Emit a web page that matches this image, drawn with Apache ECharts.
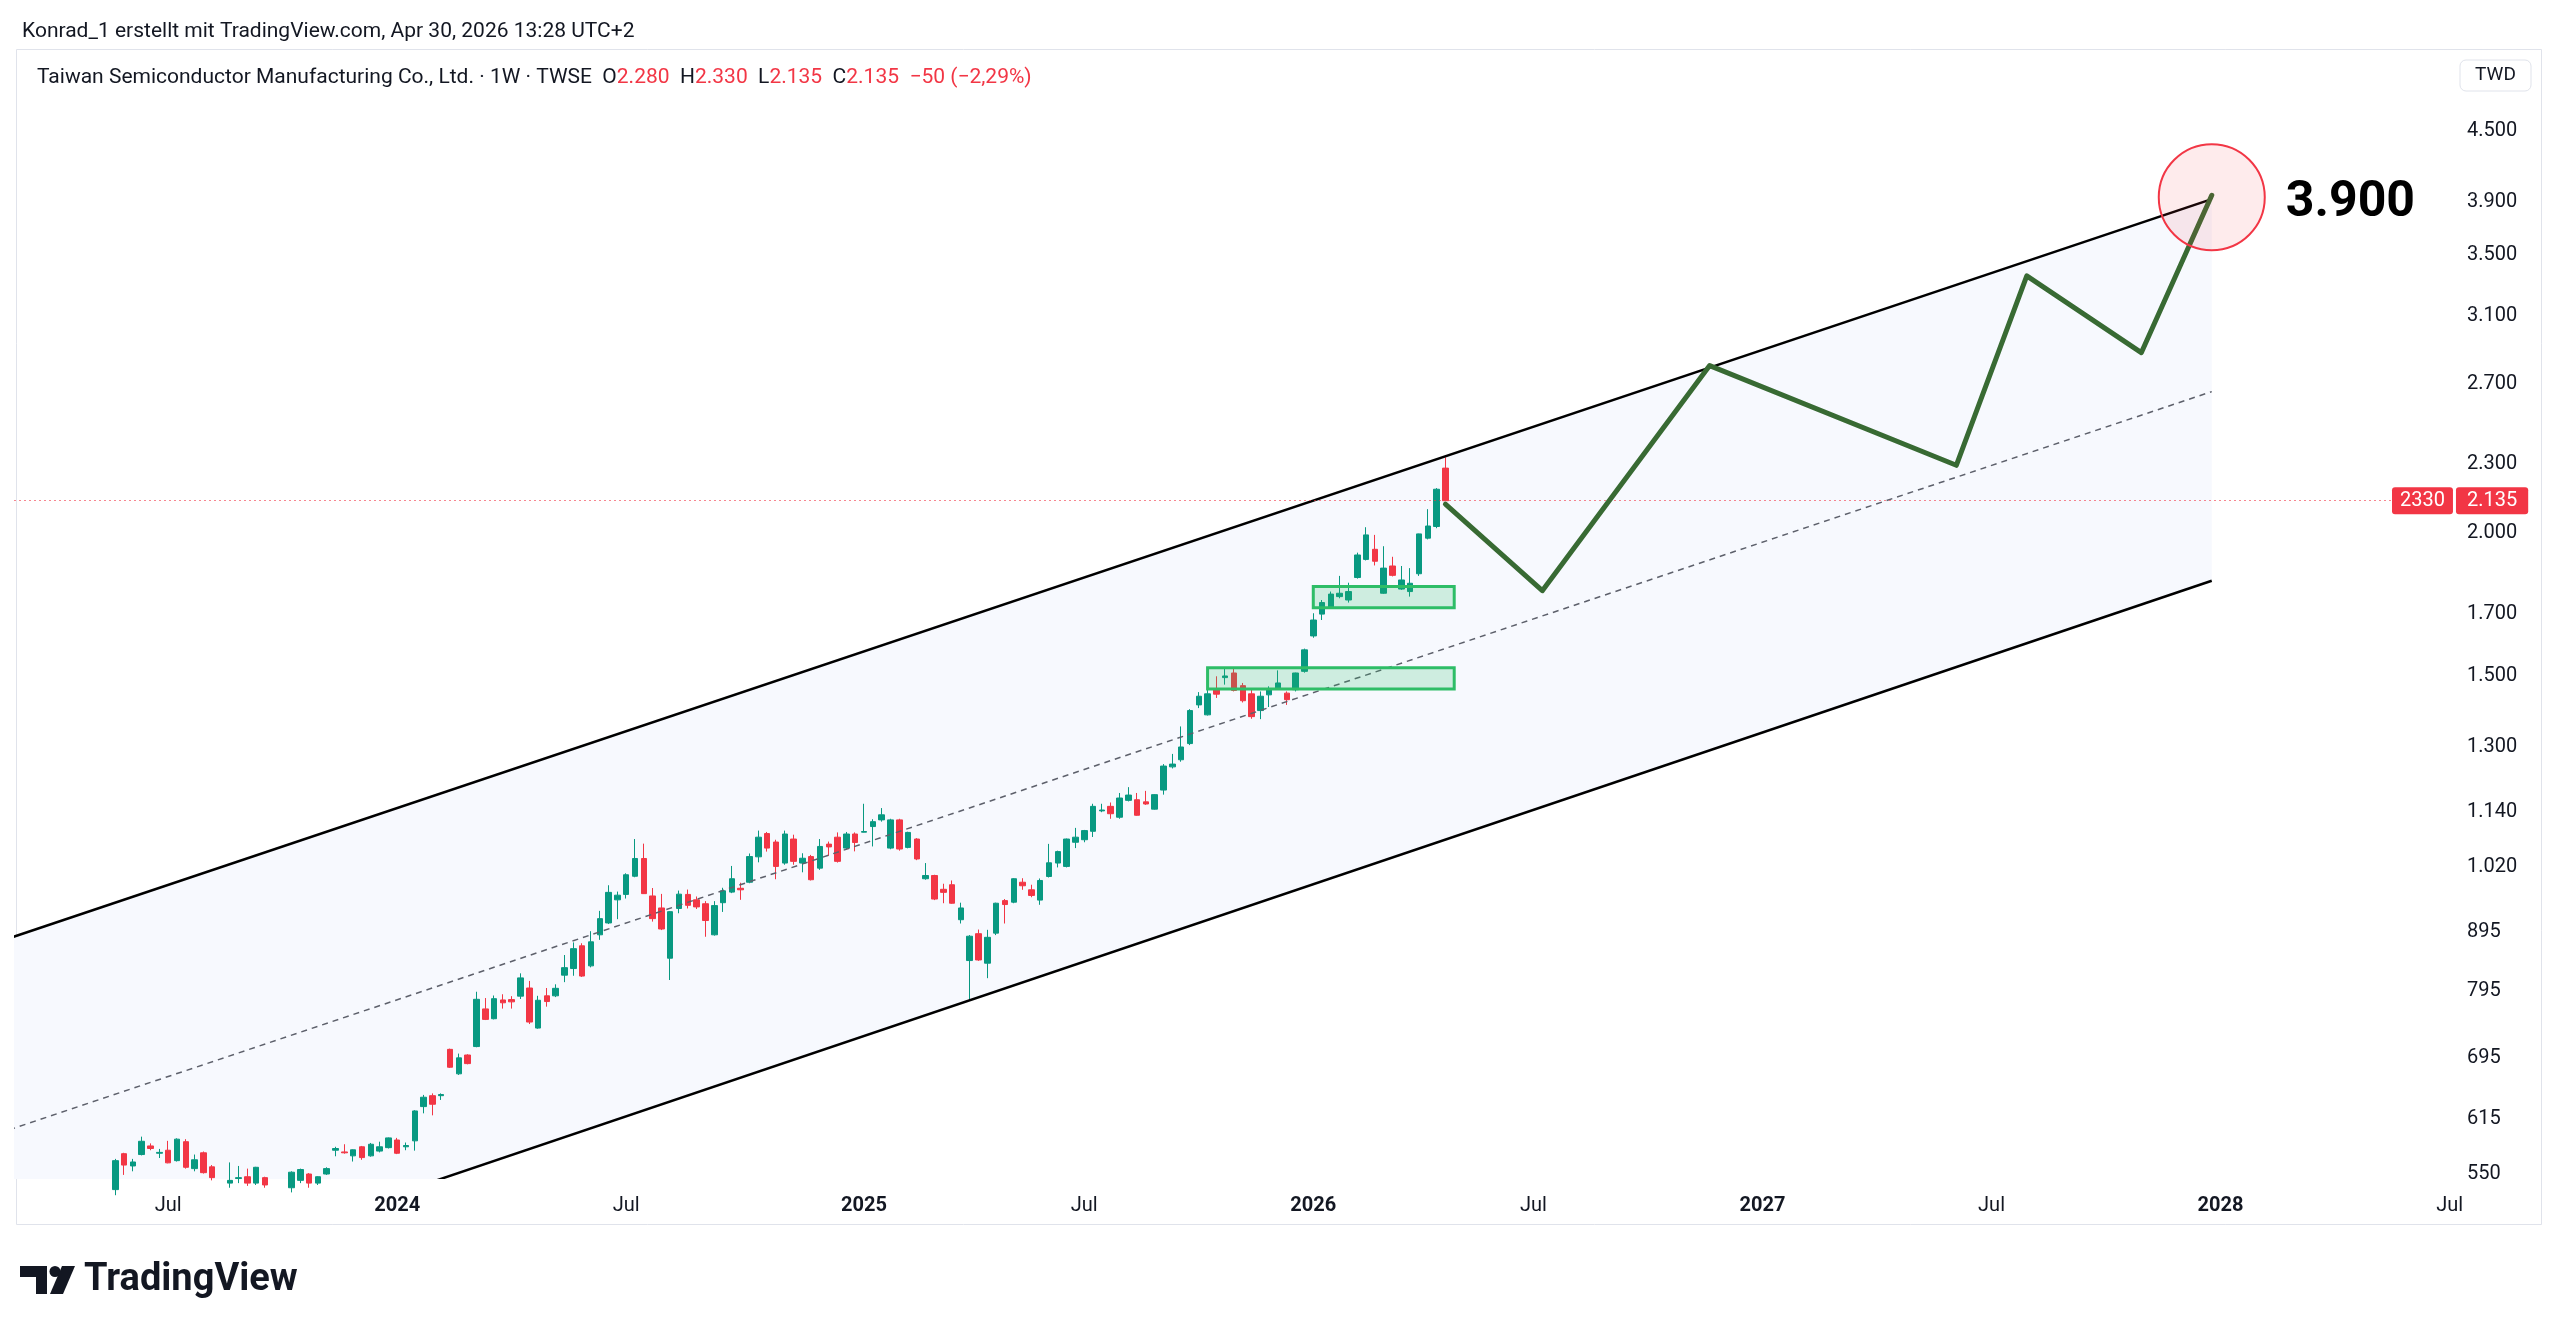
<!DOCTYPE html>
<html>
<head>
<meta charset="utf-8">
<script src="https://cdn.jsdelivr.net/npm/echarts@6/dist/echarts.min.js"></script>
<style>
html,body{margin:0;padding:0;background:#ffffff;}
#chart{width:2560px;height:1334px;}
</style>
</head>
<body>
<div id="chart"></div>
<script>
// ---------- time grid (weekly bars, TWSE closed weeks skipped) ----------
const weekStart = '2023-03-06';
const weekEnd = '2028-07-03';
const closedWeeks = ['2025-01-27', '2026-02-16'];

// ---------- weekly candles: [open, high, low, close], first bar = firstBar ----------
const firstBar = '2023-05-22';
const ohlc = [
  [533,567,527,565],[573,574,549,560],[559,567,553,563.5],[572,593,571,587.5],[582,585,577,579],
  [573.5,578.5,568,574.5],[577,588,562,562.5],[565,591,564,590],[587,590,556,557.5],[556,572,553,566],
  [574,575.5,550.5,551.5],[558,560,543,546],null,[540,563,535,543],[545,559,540,546],
  [547,556,537,540],[540,558,538,557.5],[546,547,535,538],null,null,
  [535,553,530,552],[543,556,540,555],[550,551,535,540],[540,547.5,538,547],[550,557.5,549,556],
  [577,581,570,579],[575,584,573,574],[570.5,578,564,577.5],[581,582,566,568.5],[570.5,585.5,569.5,584],
  [576,587,574.5,581],[580,592,579,591.5],[589,591.5,572.5,573.5],[581,586,577,582.5],[588,625.5,576.5,624.5],
  [630,645,621.5,642],[644,647,619,633],[644,647,638.5,645.5],[707,708,681,682],[673,701,671.5,695],
  [699,700,686,687],[711,794,710,782],[767,784,750,751],[752,788,751,783],[781,790,767.5,776.5],
  [781.5,787,767.5,778],[787,824,782.5,816.5],[800,811.5,744,747],[738,787.5,737,780.5],[787.5,800,770.5,778.5],
  [787.5,806,785.5,799.5],[821,855,809.5,833.5],[832,877,820,866],[871,875.5,818,819.5],[836.5,897,834,878],
  [890.5,934.5,881.5,920],[912,984,910,970],[955.5,971.5,919,964.5],[966,1008,958,1005],[1002,1080,1000,1038.5],
  [1038.5,1070,967,967.5],[963,978.5,914.5,920],[940,967,899,901],[849.5,934,813,933],[939,973.5,930,966.5],
  [966,975.5,939,945],[955.5,962,938,942],[948,953,887,916.5],[890.5,953,889,944.5],[950,979,932.5,973],
  [970.5,1023,968.5,997],[978,989,955.5,975],[990,1049,988,1042.5],[1042,1098.5,1030.5,1084],[1092,1095.5,1053,1060.5],
  [1073.5,1078.5,996,1022],[1029,1098.5,1025.5,1091],[1080,1089.5,1025.5,1032.5],[1029,1049.5,1010,1039],[1042.5,1046,993.5,995],
  [1018.5,1080,1015,1064],[1069,1074.5,1044,1063],[1084,1094.5,1030,1032.5],[1060.5,1095.5,1058.5,1091],[1091,1094.5,1053.5,1072.5],
  [1095,1159.5,1094.5,1096.5],[1107.5,1124,1064,1118.5],[1122.5,1149.5,1118.5,1134],[1060.5,1125,1058,1122.5],[1122.5,1125,1055,1058.5],
  [1062,1096,1060,1094.5],[1080,1082,1035,1037.5],[997,1029,995,1003.5],[1003.5,1005,955,957],[976,987,949,970],
  [985,993.5,948,949],[918,950,911,940],[845.5,890,781,888],[892.5,900,845,846.5],[841,899.5,816,886],
  [893.5,950,890,949],[954,957,911,946.5],[951,998,949,997],[990,998,975,983],[975,985,960.5,964],
  [955,997.5,946,993.5],[1001.5,1069.5,999.5,1029.5],[1029,1055,1020,1053],[1022,1081,1020,1080],[1073,1104.5,1060.5,1084],
  [1078.5,1100,1073,1098.5],[1097,1159.5,1084.5,1153.5],[1143,1159.5,1140,1145],[1153.5,1162.5,1125,1136.5],[1128.5,1185,1125,1173],
  [1167.5,1199,1165,1180],[1169,1185,1132,1133],[1164,1190,1157,1159],[1147,1182,1146,1181],[1192,1256,1181,1251],
  [1249,1282,1245,1256],[1267,1355,1262,1300],[1309,1403,1305,1399],[1415,1452,1406,1440],[1387,1461,1385,1447],
  [1459,1499,1435,1446],[1495,1522,1474,1500],[1509,1524,1454,1457],[1471,1479,1422,1427],[1447,1459,1376,1382],
  [1399,1454,1375,1440],[1444,1469,1409,1461],[1464,1517,1461,1479],[1449,1454,1415,1430],[1459,1510,1454,1509],
  [1514,1585,1510,1581],[1626,1702,1620,1679],[1699,1748,1679,1739],[1721,1778,1718,1769],[1760,1835,1754,1772],
  [1748,1810,1739,1778],[1829,1923,1825,1914],[1897,2024,1893,1993],[1936,1993,1874,1890],[1772,1948,1770,1864],
  [1872,1907,1833,1837],[1787,1872,1784,1820],[1778,1864,1760,1808],[1843,1998,1835,1997],[1980,2099,1975,2029],
  [2027,2190,2020,2185],[2280,2330,2135,2135]
];

// ---------- price scale ticks ----------
const priceTicks = [550,615,695,795,895,1020,1140,1300,1500,1700,2000,2300,2700,3100,3500,3900,4500];
const priceMin = 544.5, priceMax = 5304;

// ---------- time axis labels ----------
const timeLabels = {
  '2023-07-03':'Jul','2024-01-01':'2024','2024-07-01':'Jul','2025-01-06':'2025','2025-07-07':'Jul',
  '2026-01-05':'2026','2026-07-06':'Jul','2027-01-04':'2027','2027-07-05':'Jul','2028-01-03':'2028','2028-07-03':'Jul'
};

// ---------- drawings ----------
const upperLine = [['2023-03-06', 890], ['2027-12-27', 3920]];
const midLine   = [['2023-03-06', 605], ['2027-12-27', 2660]];
const lowerLine = [['2024-02-12', 548], ['2027-12-27', 1817]];
const forecastPath = [
  ['2026-04-27', 2120], ['2026-07-13', 1781], ['2026-11-23', 2803], ['2027-06-07', 2293],
  ['2027-08-02', 3358], ['2027-11-01', 2877], ['2027-12-27', 3950]
];
const zones = [
  { from: '2025-10-13', to: '2026-05-04', low: 1461, high: 1525 },
  { from: '2026-01-05', to: '2026-05-04', low: 1721, high: 1796 }
];
const targetPoint = ['2027-12-27', 3935];
const targetText = '3.900';
const lastClose = 2135;
const symbolCode = '2330';

// ---------- header texts ----------
const creditText = 'Konrad_1 erstellt mit TradingView.com, Apr 30, 2026 13:28 UTC+2';
const instrumentText = 'Taiwan Semiconductor Manufacturing Co., Ltd. · 1W · TWSE';
const quoteFields = [['O','2.280'],['H','2.330'],['L','2.135'],['C','2.135']];
const changeText = '−50 (−2,29%)';
const currencyText = 'TWD';

// ---------- build categories ----------
function buildWeeks() {
  const out = [];
  const p = s => { const [y,m,d] = s.split('-').map(Number); return Date.UTC(y, m-1, d); };
  for (let t = p(weekStart); t <= p(weekEnd); t += 7*86400000) {
    const s = new Date(t).toISOString().slice(0,10);
    if (!closedWeeks.includes(s)) out.push(s);
  }
  return out;
}
const cats = buildWeeks();
const firstIdx = cats.indexOf(firstBar);
const candleData = cats.map((d, k) => {
  const r = ohlc[k - firstIdx];
  if (!r) return '-';
  return [r[0], r[3], r[2], r[1]];
});
const idx = d => cats.indexOf(d);

const UP = '#089981', DOWN = '#f23645', TXT = '#131722';
const FONT = 'Roboto, "Noto Sans", sans-serif';

const fmtPrice = v => v >= 1000 ? Math.floor(v/1000) + '.' + String(Math.round(v % 1000)).padStart(3,'0') : String(v);

const chart = echarts.init(document.getElementById('chart'), null, { renderer: 'canvas' });

function ext(a, b, x) { return [x, a[1] + (b[1]-a[1]) * (x - a[0]) / (b[0] - a[0])]; }

const headerRich = {
  n: { color: TXT, fontSize: 21, fontWeight: 'normal', fontFamily: FONT },
  r: { color: '#f23645', fontSize: 21, fontWeight: 'normal', fontFamily: FONT }
};
let headerStr = '{n|' + instrumentText + '  }';
quoteFields.forEach(([k, v]) => { headerStr += '{n|' + k + '}{r|' + v + '}{n|  }'; });
headerStr += '{r|' + changeText + '}';

const option = {
  animation: false,
  backgroundColor: '#ffffff',
  textStyle: { fontFamily: FONT },
  title: [
    { text: creditText, left: 17, top: 16, textStyle: { fontSize: 21, fontWeight: 'normal', color: TXT, fontFamily: FONT } },
    { text: headerStr, left: 32, top: 62, textStyle: { fontWeight: 'normal', rich: headerRich } }
  ],
  grid: { left: 14, right: 106, top: 49, bottom: 155, outerBoundsMode: 'none', containLabel: false },
  xAxis: {
    type: 'category', data: cats, boundaryGap: true,
    axisLine: { show: false }, axisTick: { show: false }, splitLine: { show: false },
    axisLabel: {
      margin: 17,
      interval: (i, v) => timeLabels[v] !== undefined,
      formatter: v => { const t = timeLabels[v] || ''; return /^\d{4}$/.test(t) ? '{y|' + t + '}' : '{m|' + t + '}'; },
      rich: {
        y: { fontSize: 20, fontWeight: 'bold', color: TXT, fontFamily: FONT },
        m: { fontSize: 20, color: TXT, fontFamily: FONT }
      }
    }
  },
  yAxis: {
    type: 'log', position: 'right', min: priceMin, max: priceMax, logBase: 10,
    axisLine: { show: false }, axisTick: { show: false }, splitLine: { show: false },
    axisLabel: { customValues: priceTicks, margin: 13, padding: [6, 0, 0, 0], fontSize: 20, color: TXT, fontFamily: FONT, formatter: v => fmtPrice(v) }
  },
  graphic: [
    { type: 'rect', silent: true, z: -10, shape: { x: 16.5, y: 49.5, width: 2525, height: 1175 }, style: { fill: null, stroke: '#e0e3eb', lineWidth: 1 } },
    { type: 'rect', silent: true, shape: { x: 2460, y: 60, width: 71, height: 31, r: 6 }, style: { fill: '#ffffff', stroke: '#e0e3eb', lineWidth: 1 } },
    { type: 'text', silent: true, x: 2495.5, y: 75.5, style: { text: currencyText, fill: TXT, font: '19px ' + FONT, align: 'center', verticalAlign: 'middle' } },
    { type: 'polygon', silent: true, shape: { points: [[20,1266],[47,1266],[47,1294],[36,1294],[36,1277],[20,1277]] }, style: { fill: TXT } },
    { type: 'circle', silent: true, shape: { cx: 55, cy: 1271.5, r: 5.5 }, style: { fill: TXT } },
    { type: 'polygon', silent: true, shape: { points: [[62,1266],[75,1266],[63,1294],[50,1294]] }, style: { fill: TXT } },
    { type: 'text', silent: true, x: 84, y: 1280, style: { text: 'TradingView', fill: TXT, font: 'bold 38px ' + FONT, verticalAlign: 'middle' } }
  ],
  series: [
    {
      type: 'custom', name: 'channelFill', coordinateSystem: 'cartesian2d', clip: true, silent: true, z: 1,
      data: [0],
      renderItem: (params, api) => {
        const P = ([d, v]) => api.coord([idx(d), v]);
        const u0 = P(upperLine[0]), u1 = P(upperLine[1]);
        const l0 = P(lowerLine[0]), l1 = P(lowerLine[1]);
        const xl = u0[0] - 30;
        const uL = ext(u0, u1, xl), lL = ext(l0, l1, xl), lR = ext(l0, l1, u1[0]);
        return { type: 'polygon', shape: { points: [uL, u1, lR, lL] }, style: { fill: '#f7f9fe' } };
      }
    },
    {
      type: 'candlestick', name: 'TSMC', data: candleData, barWidth: 6, z: 2,
      itemStyle: { color: UP, color0: DOWN, borderColor: UP, borderColor0: DOWN, borderWidth: 1 },
      markLine: {
        silent: true, symbol: ['none', 'none'], precision: 0,
        data: [{ yAxis: lastClose }],
        lineStyle: { color: 'rgba(242, 54, 69, 0.6)', type: [2, 3], width: 1 },
        label: {
          show: true, position: 'end', distance: -62,
          formatter: () => '{a|' + symbolCode + '}{s|}{b|' + fmtPrice(lastClose) + '}',
          rich: {
            a: { backgroundColor: '#f23645', color: '#ffffff', fontSize: 20, fontFamily: FONT, padding: [4, 8, 3, 8], borderRadius: 3 },
            s: { width: 3 },
            b: { backgroundColor: '#f23645', color: '#ffffff', fontSize: 20, fontFamily: FONT, padding: [4, 11, 3, 11], borderRadius: 3 }
          }
        }
      }
    },
    {
      type: 'custom', name: 'channelLines', coordinateSystem: 'cartesian2d', clip: true, silent: true, z: 3,
      data: [0],
      renderItem: (params, api) => {
        const P = ([d, v]) => api.coord([idx(d), v]);
        const u0 = P(upperLine[0]), u1 = P(upperLine[1]);
        const m0 = P(midLine[0]), m1 = P(midLine[1]);
        const l0 = P(lowerLine[0]), l1 = P(lowerLine[1]);
        const xl = u0[0] - 30;
        const uL = ext(u0, u1, xl), mL = ext(m0, m1, xl), lL = ext(l0, l1, xl), lR = ext(l0, l1, u1[0]), mR = ext(m0, m1, u1[0]);
        return { type: 'group', children: [
          { type: 'line', shape: { x1: mL[0], y1: mL[1], x2: mR[0], y2: mR[1] }, style: { stroke: '#5d606b', lineWidth: 1.5, lineDash: [6, 5] } },
          { type: 'line', shape: { x1: uL[0], y1: uL[1], x2: u1[0], y2: u1[1] }, style: { stroke: '#000000', lineWidth: 2.5 } },
          { type: 'line', shape: { x1: lL[0], y1: lL[1], x2: lR[0], y2: lR[1] }, style: { stroke: '#000000', lineWidth: 2.5 } }
        ]};
      }
    },
    {
      type: 'custom', name: 'zones', coordinateSystem: 'cartesian2d', clip: true, silent: true, z: 4,
      data: zones.map((z, k) => k),
      renderItem: (params, api) => {
        const z = zones[params.dataIndex];
        const a = api.coord([idx(z.from), z.high]), b = api.coord([idx(z.to), z.low]);
        return { type: 'rect', shape: { x: a[0], y: a[1], width: b[0] - a[0], height: b[1] - a[1] },
          style: { fill: 'rgba(46, 189, 103, 0.2)', stroke: '#2ebd67', lineWidth: 3 } };
      }
    },
    {
      type: 'line', name: 'forecast', z: 5, silent: true, symbol: 'none',
      data: forecastPath.map(([d, v]) => [idx(d), v]),
      lineStyle: { color: '#386a33', width: 5, join: 'round', cap: 'round' }
    },
    {
      type: 'scatter', name: 'target', z: 6, silent: true,
      data: [[idx(targetPoint[0]), targetPoint[1]]],
      symbol: 'circle', symbolSize: 106,
      itemStyle: { color: 'rgba(242, 54, 69, 0.1)', borderColor: '#f23645', borderWidth: 2, opacity: 1 },
      label: { show: true, position: 'right', distance: 20, offset: [0, 6], formatter: () => targetText,
        fontSize: 50, fontWeight: 'bold', color: '#000000', fontFamily: FONT }
    }
  ]
};
chart.setOption(option);
</script>
</body>
</html>
